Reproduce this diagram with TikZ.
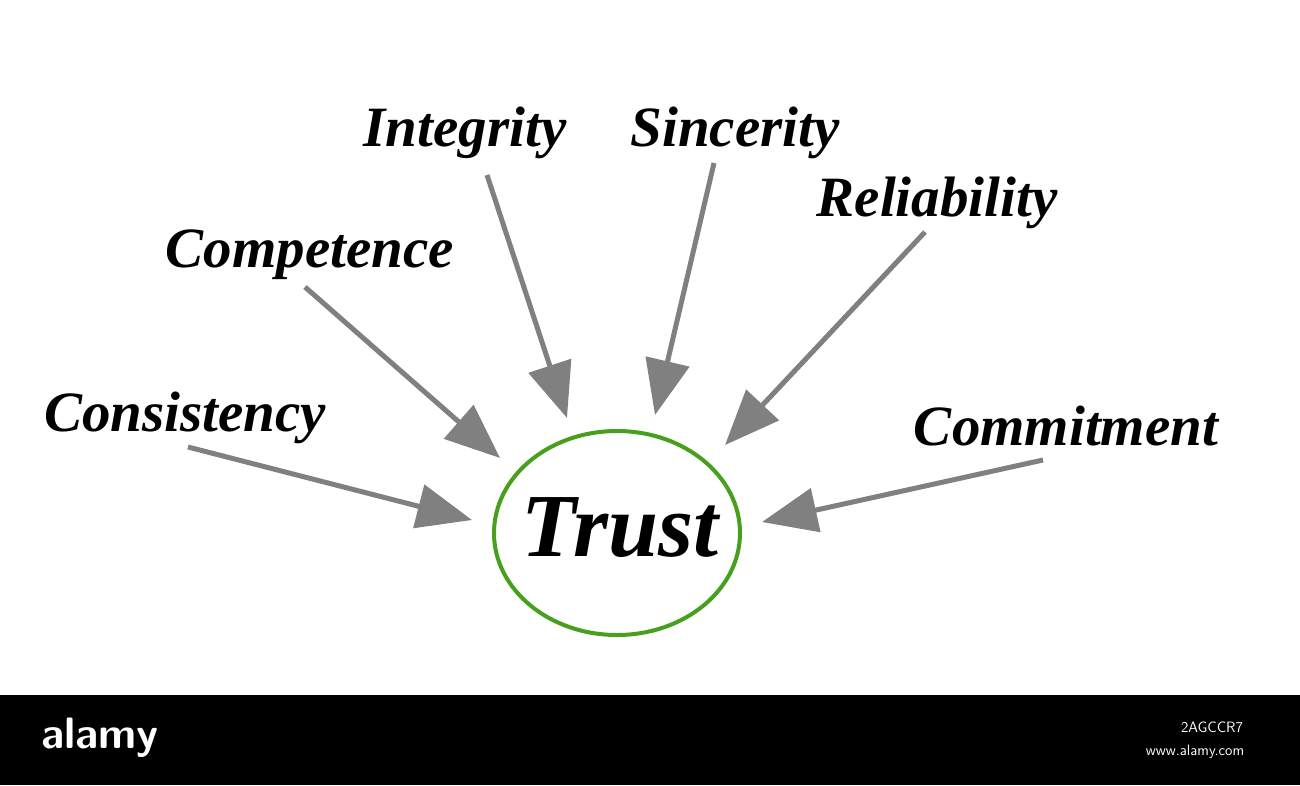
\documentclass[tikz,border=0pt]{standalone}
\usepackage{fontspec}
\setmainfont{Liberation Serif}
\usetikzlibrary{arrows.meta,shapes.geometric}
\definecolor{grn}{RGB}{70,160,30}
\definecolor{arr}{RGB}{128,128,128}
\begin{document}
\begin{tikzpicture}[x=1pt,y=-1pt,
 lab/.style={font=\fontsize{57}{60}\selectfont\bfseries\itshape},
 ar/.style={draw=arr,line width=5pt,-{Triangle[length=55pt,width=44pt]},arr}]
\useasboundingbox (0,0) rectangle (1300,785);
\fill[white] (0,0) rectangle (1300,695);
\node[lab] (int) at (465,133) {Integrity};
\node[lab] (sin) at (735,133) {Sincerity};
\node[lab] (com) at (310,255) {Competence};
\node[lab] (rel) at (937,203) {Reliability};
\node[lab] (con) at (185,418) {Consistency};
\node[lab] (cmt) at (1066,426) {Commitment};
\node[ellipse,draw=grn,line width=4pt,minimum width=246pt,minimum height=204pt] (t) at (617,533) {};
\node[font=\fontsize{90}{92}\selectfont\bfseries\itshape] (tr) at (620,528) {Trust};
\coordinate (a1) at (188,447); \coordinate (b1) at (472,520);
\coordinate (a2) at (305,287); \coordinate (b2) at (500,458);
\coordinate (a3) at (487,175); \coordinate (b3) at (567,418);
\coordinate (a4) at (714,163); \coordinate (b4) at (655,415);
\coordinate (a5) at (925,232); \coordinate (b5) at (725,445);
\coordinate (a6) at (1043,460); \coordinate (b6) at (762,522);
\foreach \i in {1,...,6} \draw[ar] (a\i) -- (b\i);
\fill[black] (0,695) rectangle (1300,785);
\node[white,font=\sffamily\bfseries\fontsize{44}{46}\selectfont] (al) at (100,738) {alamy};
\node[white,font=\sffamily\fontsize{15}{17}\selectfont] (id) at (1212,727) {2AGCCR7};
\node[white,font=\sffamily\fontsize{15}{17}\selectfont] (www) at (1195,752) {www.alamy.com};
\end{tikzpicture}
\end{document}
